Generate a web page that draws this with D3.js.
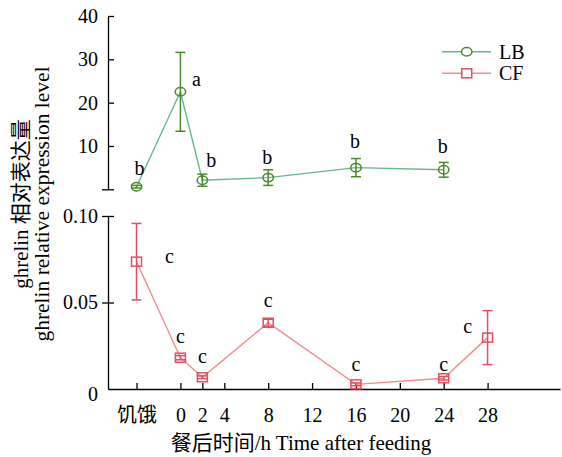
<!DOCTYPE html>
<html><head><meta charset="utf-8">
<script src="https://cdn.jsdelivr.net/npm/d3@7"></script>
<style>
body{margin:0;background:#fff;}
svg{display:block;}
svg text{font-family:"Liberation Serif","Times New Roman","Noto Sans CJK SC",serif !important;}
</style></head><body>
<svg id="c" width="562" height="457"></svg>
<script>
// ---- data ----
const timePoints = [-4, 0, 2, 8, 16, 24];          // -4 = 饥饿 (starved)
const lbValues   = [0.6, 22.5, 2.1, 2.7, 5.0, 4.5];
const lbErrors   = [0.3, 9.1, 1.4, 1.8, 2.1, 1.7];
const lbLetters  = ["b", "a", "b", "b", "b", "b"];
const cfTimes    = [-4, 0, 2, 8, 16, 24, 28];
const cfValues   = [0.0736, 0.0181, 0.0068, 0.0383, 0.0027, 0.0062, 0.0297];
const cfErrors   = [0.0221, 0.0012, 0.0008, 0.0020, 0.0008, 0.0010, 0.0156];
const cfLetters  = ["c", "c", "c", "c", "c", "c", "c"];
const xTicks     = [-4, 0, 2, 4, 8, 12, 16, 20, 24, 28];
const xTickNames = ["饥饿", "0", "2", "4", "8", "12", "16", "20", "24", "28"];
const yTopTicks  = [0, 10, 20, 30, 40];
const yBotTicks  = [0, 0.05, 0.10];
const seriesNames = ["LB", "CF"];

// ---- layout ----
const lbLabelOff = [[3,-12],[16,-6],[9,-13],[-1,-14],[-1,-20],[-1,-17]];
const cfLabelOff = [[33,1],[0,-15],[0,-14],[0,-16],[0,-13],[0,-7],[-20,-5]];
const C = {lbLine:"#62b98a", lbMark:"#4a8a2a", cfLine:"#f28c8c", cfMark:"#e0505e"};

const svg = d3.select("#c");
const x = d3.scaleLinear().domain([-6.6, 34.6]).range([108, 560]);
const yTop = d3.scaleLinear().domain([0, 40]).range([189.3, 16]);
const yBot = d3.scaleLinear().domain([0, 0.10]).range([389, 216]);

// axes
const gx = svg.append("g").attr("transform","translate(0,389)")
  .call(d3.axisBottom(x).tickValues(xTicks).tickSize(-6).tickSizeOuter(0).tickPadding(19)
        .tickFormat((d,i)=>xTickNames[i]));
const gyT = svg.append("g").attr("transform","translate(108,0)")
  .call(d3.axisLeft(yTop).tickValues(yTopTicks).tickSize(-6).tickSizeOuter(0).tickPadding(10)
        .tickFormat(d=>d===0?"":d));
gyT.selectAll(".tick").filter(d=>d===0).select("line").attr("x1",-6).attr("x2",6);
const gyB = svg.append("g").attr("transform","translate(108,0)")
  .call(d3.axisLeft(yBot).tickValues(yBotTicks).tickSize(-6).tickSizeOuter(0).tickPadding(10)
        .tickFormat(d=>d===0?"0":d3.format(".2f")(d)));
gyB.selectAll(".tick line").attr("x1",-6).attr("x2",6);
gyB.selectAll(".tick").filter(d=>d===0).select("line").remove();
[gx,gyT,gyB].forEach(g=>{
  g.attr("font-family",null).attr("font-size",20);
  g.selectAll("path,line").attr("stroke","#000").attr("stroke-width",1.3);
  g.selectAll("text").attr("fill","#000");
});
gyB.selectAll(".tick").filter(d=>d===0).select("text").attr("dy","0.55em");

// axis titles
svg.append("text").attr("x",301).attr("y",450).attr("text-anchor","middle")
  .attr("font-size",21).text("餐后时间/h Time after feeding");
svg.append("text").attr("transform","translate(28,204) rotate(-90)").attr("text-anchor","middle")
  .attr("font-size",21).text("ghrelin 相对表达量");
svg.append("text").attr("transform","translate(49,204) rotate(-90)").attr("text-anchor","middle")
  .attr("font-size",21.5).text("ghrelin relative expression level");

function drawSeries(times, vals, errs, letters, offs, y, lineCol, markCol, shape){
  const pts = times.map((t,i)=>({t, v:vals[i], e:errs[i], l:letters[i], o:offs[i]}));
  svg.append("path").datum(pts)
    .attr("d", d3.line().x(d=>x(d.t)).y(d=>y(d.v)))
    .attr("fill","none").attr("stroke",lineCol).attr("stroke-width",1.4);
  const g = svg.append("g").selectAll("g").data(pts).join("g");
  g.append("line").attr("x1",d=>x(d.t)).attr("x2",d=>x(d.t))
    .attr("y1",d=>y(d.v-d.e)).attr("y2",d=>y(d.v+d.e)).attr("stroke",markCol).attr("stroke-width",1.5);
  ["-","+"].forEach(s=>{
    g.append("line").attr("x1",d=>x(d.t)-5).attr("x2",d=>x(d.t)+5)
      .attr("y1",d=>y(s==="+"?d.v+d.e:d.v-d.e)).attr("y2",d=>y(s==="+"?d.v+d.e:d.v-d.e))
      .attr("stroke",markCol).attr("stroke-width",1.5);
  });
  if(shape==="circle"){
    g.append("ellipse").attr("cx",d=>x(d.t)).attr("cy",d=>y(d.v)).attr("rx",5.2).attr("ry",4.2)
      .attr("fill","none").attr("stroke",markCol).attr("stroke-width",1.5);
  } else {
    g.append("rect").attr("x",d=>x(d.t)-5).attr("y",d=>y(d.v)-4.5).attr("width",10).attr("height",9)
      .attr("fill","none").attr("stroke",markCol).attr("stroke-width",1.5);
  }
  g.append("text").attr("x",d=>x(d.t)+d.o[0]).attr("y",d=>y(d.v)+d.o[1])
    .attr("text-anchor","middle").attr("font-size",20).text(d=>d.l);
}
drawSeries(timePoints, lbValues, lbErrors, lbLetters, lbLabelOff, yTop, C.lbLine, C.lbMark, "circle");
drawSeries(cfTimes, cfValues, cfErrors, cfLetters, cfLabelOff, yBot, C.cfLine, C.cfMark, "square");

// legend
const leg = svg.append("g").selectAll("g").data(seriesNames).join("g")
  .attr("transform",(d,i)=>`translate(442,${51.7+i*21.6})`);
leg.append("line").attr("x1",0).attr("x2",49).attr("stroke",(d,i)=>i?C.cfLine:C.lbLine).attr("stroke-width",1.4);
leg.filter((d,i)=>i===0).append("ellipse").attr("cx",24.7).attr("rx",5.2).attr("ry",4.2)
  .attr("fill","#fff").attr("stroke",C.lbMark).attr("stroke-width",1.5);
leg.filter((d,i)=>i===1).append("rect").attr("x",19.7).attr("y",-4.5).attr("width",10).attr("height",9)
  .attr("fill","#fff").attr("stroke",C.cfMark).attr("stroke-width",1.5);
leg.append("text").attr("x",57).attr("y",7).attr("font-size",20).text(d=>d);
</script>
</body></html>
